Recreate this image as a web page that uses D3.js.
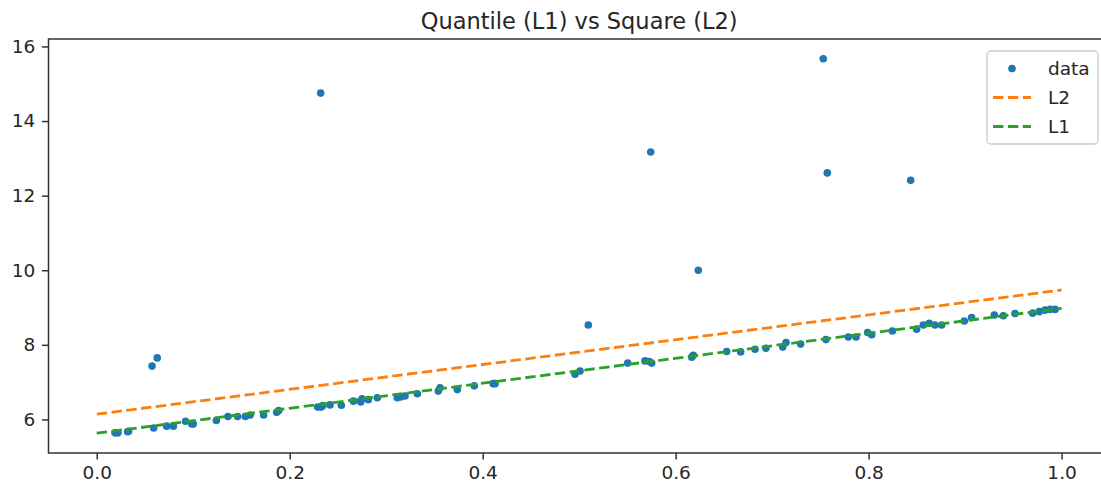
<!DOCTYPE html>
<html>
<head>
<meta charset="utf-8">
<script src="https://cdn.jsdelivr.net/npm/d3@7"></script>
<style>
  body { margin: 0; background: #fff; }
  text { font-family: "DejaVu Sans", sans-serif; fill: #262626; }
</style>
</head>
<body>
<svg id="chart" width="1101" height="487"></svg>
<script>
// scatter data (x, y)
var dataX = [0.019, 0.022, 0.032, 0.033, 0.059, 0.0725, 0.0794, 0.092, 0.0985, 0.100,
  0.124, 0.136, 0.146, 0.154, 0.159, 0.173, 0.1865, 0.1886, 0.229, 0.2325,
  0.2342, 0.2418, 0.2535, 0.266, 0.2736, 0.275, 0.2815, 0.2908, 0.3115, 0.315,
  0.3195, 0.3323, 0.354, 0.3558, 0.3737, 0.3913, 0.4109, 0.4128, 0.4957, 0.5009,
  0.5503, 0.5682, 0.5727, 0.5752, 0.6167, 0.6183, 0.6529, 0.6674, 0.6823, 0.6936,
  0.711, 0.7144, 0.7296, 0.7558, 0.779, 0.787, 0.799, 0.8032, 0.8246, 0.8498,
  0.8567, 0.8629, 0.8688, 0.8757, 0.8992, 0.9068, 0.9303, 0.9396, 0.9517, 0.970,
  0.9769, 0.9828, 0.988, 0.9932,
  0.0573, 0.0627, 0.2321, 0.5095, 0.5742, 0.6235, 0.753, 0.7572, 0.8436];
var dataY = [5.64, 5.64, 5.67, 5.68, 5.77, 5.82, 5.82, 5.95, 5.88, 5.88,
  5.97, 6.08, 6.08, 6.08, 6.12, 6.12, 6.19, 6.24, 6.33, 6.33,
  6.37, 6.39, 6.38, 6.49, 6.47, 6.55, 6.53, 6.58, 6.58, 6.60,
  6.63, 6.69, 6.76, 6.85, 6.80, 6.90, 6.96, 6.96, 7.21, 7.30,
  7.51, 7.57, 7.55, 7.51, 7.67, 7.72, 7.82, 7.81, 7.88, 7.91,
  7.94, 8.06, 8.02, 8.14, 8.21, 8.21, 8.33, 8.27, 8.37, 8.42,
  8.53, 8.58, 8.53, 8.53, 8.64, 8.73, 8.80, 8.78, 8.84, 8.85,
  8.89, 8.93, 8.95, 8.95,
  7.43, 7.65, 14.75, 8.53, 13.17, 10.00, 15.67, 12.61, 12.41];

// fitted lines
var lineX = [0, 1];
var l2Y = [6.14, 9.47];
var l1Y = [5.63, 8.98];

var xTicks = [0.0, 0.2, 0.4, 0.6, 0.8, 1.0];
var yTicks = [6, 8, 10, 12, 14, 16];
var legendLabels = ['data', 'L2', 'L1'];

var svg = d3.select('#chart');
var plotLeft = 48.5, plotRight = 1109.8, plotTop = 39, plotBottom = 453;

var x = d3.scaleLinear().domain([-0.05, 1.05]).range([plotLeft, plotRight]);
var y = d3.scaleLinear().domain([5.1, 16.2]).range([plotBottom, plotTop]);

var blue = '#1f77b4', orange = '#ff7f0e', green = '#2ca02c';

svg.append('defs').append('clipPath').attr('id', 'plotclip')
  .append('rect').attr('x', plotLeft).attr('y', plotTop)
  .attr('width', plotRight - plotLeft).attr('height', plotBottom - plotTop);

var plot = svg.append('g').attr('clip-path', 'url(#plotclip)');

plot.selectAll('circle.pt')
  .data(dataX)
  .enter().append('circle')
  .attr('class', 'pt')
  .attr('cx', function(d) { return x(d); })
  .attr('cy', function(d, i) { return y(dataY[i]); })
  .attr('r', 3.8)
  .style('fill', blue);

var line = d3.line()
  .x(function(d) { return x(d[0]); })
  .y(function(d) { return y(d[1]); });

plot.append('path')
  .datum(lineX.map(function(v, i) { return [v, l2Y[i]]; }))
  .attr('d', line)
  .attr('fill', 'none')
  .attr('stroke', orange)
  .attr('stroke-width', 2.8)
  .attr('stroke-dasharray', '10.4,4.5');

plot.append('path')
  .datum(lineX.map(function(v, i) { return [v, l1Y[i]]; }))
  .attr('d', line)
  .attr('fill', 'none')
  .attr('stroke', green)
  .attr('stroke-width', 2.8)
  .attr('stroke-dasharray', '10.4,4.5');

// axes
var xAxis = d3.axisBottom(x).tickValues(xTicks).tickFormat(d3.format('.1f'))
  .tickSize(6.6).tickPadding(6.6);
var yAxis = d3.axisLeft(y).tickValues(yTicks).tickFormat(d3.format('d'))
  .tickSize(6.6).tickPadding(6.6);

var gx = svg.append('g').attr('transform', 'translate(0,' + plotBottom + ')').call(xAxis);
var gy = svg.append('g').attr('transform', 'translate(' + plotLeft + ',0)').call(yAxis);

[gx, gy].forEach(function(g) {
  g.select('.domain').remove();
  g.selectAll('.tick line').attr('stroke', '#333').attr('stroke-width', 1.5);
  g.selectAll('.tick text')
    .style('font-family', '"DejaVu Sans", sans-serif')
    .style('font-size', '18.5px')
    .attr('fill', '#262626');
});

// spines (right one falls outside the picture)
svg.append('rect')
  .attr('x', plotLeft).attr('y', plotTop)
  .attr('width', plotRight - plotLeft).attr('height', plotBottom - plotTop)
  .attr('fill', 'none').attr('stroke', '#333').attr('stroke-width', 1.5);

svg.append('text')
  .attr('x', (plotLeft + plotRight) / 2).attr('y', 29)
  .attr('text-anchor', 'middle')
  .style('font-size', '22.5px')
  .text('Quantile (L1) vs Square (L2)');

// legend
var lg = svg.append('g');
lg.append('rect')
  .attr('x', 987).attr('y', 51).attr('width', 111).attr('height', 93)
  .attr('rx', 4).attr('fill', 'white').attr('fill-opacity', 0.8)
  .attr('stroke', '#cccccc').attr('stroke-width', 1.3);

var rows = lg.selectAll('g.row').data(legendLabels).enter().append('g')
  .attr('class', 'row')
  .attr('transform', function(d, i) { return 'translate(0,' + (68.5 + i * 29) + ')'; });

rows.each(function(d, i) {
  var r = d3.select(this);
  if (i === 0) {
    r.append('circle').attr('cx', 1012).attr('cy', 0).attr('r', 3.8).style('fill', blue);
  } else {
    r.append('line').attr('x1', 993).attr('x2', 1031).attr('y1', 0).attr('y2', 0)
      .attr('stroke', i === 1 ? orange : green).attr('stroke-width', 2.8)
      .attr('stroke-dasharray', '10.4,4.5');
  }
  r.append('text').attr('x', 1048).attr('y', 0).attr('dy', '0.35em')
    .style('font-size', '18.5px').text(d);
});
</script>
</body>
</html>
